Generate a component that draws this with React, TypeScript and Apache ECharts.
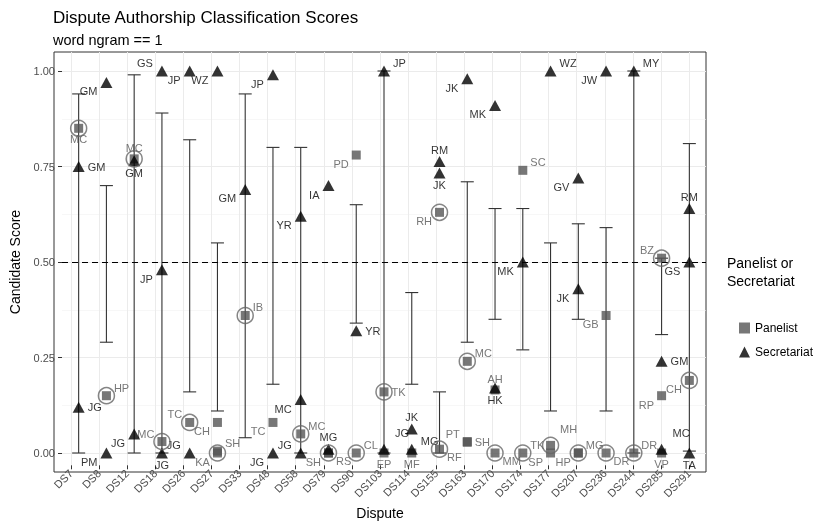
import React, { useEffect, useRef } from "react";
import * as echarts from "echarts";

// ---------- data ----------
const categories = ["DS7", "DS8", "DS12", "DS18", "DS26", "DS27", "DS33", "DS48", "DS58", "DS79", "DS90", "DS103", "DS114", "DS155", "DS163", "DS170", "DS174", "DS177", "DS207", "DS236", "DS244", "DS285", "DS291"];
const yTicks = [0, 0.25, 0.5, 0.75, 1];
const threshold = 0.5;

// error-bar range for each dispute (null = none)
const rangeLow = [0, 0.29, 0, 0, 0.16, 0.11, 0.04, 0.18, 0, null, 0.34, 0, 0.18, 0, 0.29, 0.35, 0.27, 0.11, 0.35, 0.11, 0, 0.31, 0.005];
const rangeHigh = [0.94, 0.70, 0.99, 0.89, 0.82, 0.55, 0.94, 0.80, 0.80, null, 0.65, 1.0, 0.42, 0.16, 0.71, 0.64, 0.64, 0.55, 0.60, 0.59, 1.0, 0.51, 0.81];

// Panelist candidates
const panelDispute = ["DS7", "DS8", "DS12", "DS18", "DS26", "DS27", "DS27", "DS27", "DS33", "DS48", "DS58", "DS79", "DS79", "DS90", "DS90", "DS103", "DS103", "DS114", "DS155", "DS155", "DS163", "DS163", "DS163", "DS170", "DS170", "DS174", "DS174", "DS177", "DS177", "DS207", "DS207", "DS236", "DS236", "DS244", "DS285", "DS285", "DS285", "DS291"];
const panelName = ["MC", "HP", "MC", "MC", "TC", "CH", "KA", "SH", "IB", "TC", "MC", "SH", "RS", "PD", "CL", "TK", "EP", "MF", "RH", "RF", "MC", "PT", "SH", "AH", "MM", "SC", "TK", "MH", "SP", "HP", "MG", "GB", "DR", "DR", "BZ", "RP", "VP", "CH"];
const panelScore = [0.85, 0.15, 0.77, 0.03, 0.08, 0.08, 0.0, 0.005, 0.36, 0.08, 0.05, 0.0, 0.0, 0.78, 0.0, 0.16, 0.0, 0.0, 0.63, 0.01, 0.24, 0.03, 0.028, 0.165, 0.0, 0.74, 0.0, 0.02, 0.0, 0.0, 0.0, 0.36, 0.0, 0.0, 0.51, 0.15, 0.0, 0.19];
const panelCircled = [true, true, true, true, true, false, true, false, true, false, true, true, false, false, true, true, false, false, true, true, true, false, false, false, true, false, true, true, false, true, false, false, true, true, true, false, false, true];
const panelLabelAt = ["b", "tr", "t", "tl", "tl", "bl", "bl", "tr", "tr", "bl", "tr", "bl", "br", "bl", "tr", "r", "b", "b", "bl", "br", "tr", "tl", "r", "t", "br", "tr", "tr", "far", "bl", "bl", "tr", "bl", "br", "tr", "tl", "bl", "b", "bl"];

// Secretariat candidates
const secDispute = ["DS7", "DS7", "DS8", "DS8", "DS12", "DS12", "DS18", "DS18", "DS18", "DS26", "DS26", "DS27", "DS33", "DS48", "DS48", "DS58", "DS58", "DS58", "DS79", "DS79", "DS90", "DS103", "DS103", "DS114", "DS114", "DS155", "DS155", "DS163", "DS170", "DS170", "DS174", "DS177", "DS207", "DS207", "DS236", "DS244", "DS285", "DS285", "DS291", "DS291", "DS291"];
const secName = ["GM", "JG", "GM", "PM", "GM", "JG", "GS", "JP", "JG", "JP", "JG", "WZ", "GM", "JP", "JG", "YR", "MC", "JG", "IA", "MG", "YR", "JP", "JG", "JK", "MG", "RM", "JK", "JK", "MK", "HK", "MK", "WZ", "GV", "JK", "JW", "MY", "GM", "MC", "RM", "GS", "TA"];
const secScore = [0.75, 0.12, 0.97, 0.0, 0.765, 0.05, 1.0, 0.48, 0.0, 1.0, 0.0, 1.0, 0.69, 0.99, 0.0, 0.62, 0.14, 0.0, 0.70, 0.01, 0.32, 1.0, 0.01, 0.063, 0.01, 0.763, 0.733, 0.98, 0.91, 0.17, 0.50, 1.0, 0.72, 0.43, 1.0, 1.0, 0.24, 0.01, 0.64, 0.50, 0.0];
const secLabelAt = ["r", "r", "bl", "bl", "b", "bl", "tl", "bl", "b", "bl", "tl", "bl", "bl", "bl", "bl", "bl", "bl", "tl", "bl", "t", "r", "tr", "far", "t", "tr", "t", "b", "bl", "bl", "b", "bl", "tr", "bl", "bl", "bl", "tr", "r", "far", "t", "bl", "b"];

// ---------- helpers ----------
const FONT = "Liberation Sans, Arial, Helvetica, sans-serif";

function labelFor(code: string, color: string, text: string) {
  const base: any = { show: true, formatter: text, color, fontSize: 11, fontFamily: FONT, distance: 3 };
  switch (code) {
    case "r": return { ...base, position: "right" };
    case "l": return { ...base, position: "left" };
    case "t": return { ...base, position: "top", distance: 1 };
    case "b": return { ...base, position: "bottom", distance: 1 };
    case "tr": return { ...base, position: "right", offset: [0, -8] };
    case "tl": return { ...base, position: "left", offset: [0, -8] };
    case "br": return { ...base, position: "right", offset: [0, 8] };
    case "bl": return { ...base, position: "left", offset: [0, 9] };
    case "far": return { ...base, position: "right", offset: [2, -16] };
    default: return base;
  }
}

export default function App() {
  const ref = useRef<HTMLDivElement>(null);
  useEffect(() => {
    if (!ref.current) return;
    const chart = echarts.init(ref.current, undefined, { renderer: "svg" });

    const errData = categories
      .map((c, i) => [i, rangeLow[i], rangeHigh[i]])
      .filter((d) => d[1] !== null && d[2] !== null);

    const panelData = panelDispute.map((d, i) => ({
      value: [categories.indexOf(d), panelScore[i]],
      label: labelFor(panelLabelAt[i], "#555555", panelName[i]),
    }));
    const circleData = panelDispute
      .map((d, i) => ({ d, i }))
      .filter((o) => panelCircled[o.i])
      .map((o) => [categories.indexOf(o.d), panelScore[o.i]]);
    const secData = secDispute.map((d, i) => ({
      value: [categories.indexOf(d), secScore[i]],
      label: labelFor(secLabelAt[i], "#000000", secName[i]),
    }));

    const axisTextColor = "#4d4d4d";
    const option: any = {
      animation: false,
      title: {
        text: "Dispute Authorship Classification Scores",
        subtext: "word ngram == 1",
        left: 48,
        top: 4,
        itemGap: 6,
        textStyle: { fontFamily: FONT, fontSize: 17, fontWeight: "normal", color: "#000" },
        subtextStyle: { fontFamily: FONT, fontSize: 14.5, color: "#000" },
      },
      legend: {
        data: ["Panelist", "Secretariat"],
        orient: "vertical",
        left: 734,
        top: 317,
        itemGap: 12,
        itemWidth: 11,
        itemHeight: 11,
        textStyle: { fontFamily: FONT, fontSize: 12, color: "#000" },
      },
      graphic: [
        {
          type: "text",
          left: 727,
          top: 254,
          style: { text: "Panelist or\nSecretariat", fontFamily: FONT, fontSize: 14, lineHeight: 18, fill: "#000" },
        },
      ],
      grid: [
        { left: 54, top: 71, width: 652, height: 382 },
        { left: 70.9, top: 52, width: 618.2, height: 420 },
        { left: 54, top: 52, width: 652, height: 420, show: true, borderColor: "#333", borderWidth: 1, backgroundColor: "transparent" },
      ],
      xAxis: [
        { type: "value", gridIndex: 0, min: -0.6, max: 22.6, show: false, axisLine: { onZero: false } },
        {
          type: "value",
          gridIndex: 1,
          min: 0,
          max: 22,
          interval: 1,
          position: "bottom",
          name: "Dispute",
          nameLocation: "middle",
          nameGap: 38,
          nameTextStyle: { fontFamily: FONT, fontSize: 14, color: "#000" },
          axisLine: { show: false, onZero: false },
          axisTick: { show: true, length: 4, lineStyle: { color: "#333" } },
          axisLabel: {
            rotate: 45,
            margin: 6,
            fontFamily: FONT,
            fontSize: 11,
            color: axisTextColor,
            formatter: (v: number) => categories[Math.round(v)] ?? "",
          },
          splitLine: { show: true, lineStyle: { color: "#ebebeb", width: 1 } },
        },
        { type: "value", gridIndex: 2, show: false, axisLine: { onZero: false } },
      ],
      yAxis: [
        {
          type: "value",
          gridIndex: 0,
          min: 0,
          max: 1,
          interval: 0.25,
          position: "left",
          name: "Candidate Score",
          nameLocation: "middle",
          nameGap: 40,
          nameTextStyle: { fontFamily: FONT, fontSize: 14, color: "#000" },
          axisLine: { show: false, onZero: false },
          axisTick: { show: true, length: 4, lineStyle: { color: "#333" } },
          axisLabel: {
            margin: 7,
            fontFamily: FONT,
            fontSize: 11,
            color: axisTextColor,
            formatter: (v: number) => (yTicks.some((t) => Math.abs(t - v) < 1e-9) ? v.toFixed(2) : ""),
          },
          splitLine: { show: true, lineStyle: { color: "#ebebeb", width: 1 } },
          minorTick: { show: false, splitNumber: 2 },
          minorSplitLine: { show: true, lineStyle: { color: "#f2f2f2", width: 0.6 } },
        },
        { type: "value", gridIndex: 1, show: false, axisLine: { onZero: false } },
        { type: "value", gridIndex: 2, show: false, axisLine: { onZero: false } },
      ],
      series: [
        {
          type: "custom",
          name: "range",
          xAxisIndex: 0,
          yAxisIndex: 0,
          clip: false,
          data: errData,
          renderItem: (params: any, api: any) => {
            const x = api.value(0);
            const lo = api.coord([x, api.value(1)]);
            const hi = api.coord([x, api.value(2)]);
            const w = 6.5;
            const style = { stroke: "#333", lineWidth: 1.1 };
            return {
              type: "group",
              children: [
                { type: "line", shape: { x1: lo[0], y1: lo[1], x2: hi[0], y2: hi[1] }, style },
                { type: "line", shape: { x1: lo[0] - w, y1: lo[1], x2: lo[0] + w, y2: lo[1] }, style },
                { type: "line", shape: { x1: hi[0] - w, y1: hi[1], x2: hi[0] + w, y2: hi[1] }, style },
              ],
            };
          },
          markLine: {
            silent: true,
            symbol: "none",
            label: { show: false },
            lineStyle: { color: "#000", type: [6, 4], width: 1 },
            data: [{ yAxis: threshold }],
          },
          z: 2,
        },
        {
          type: "scatter",
          name: "Panelist",
          xAxisIndex: 0,
          yAxisIndex: 0,
          clip: false,
          symbol: "rect",
          symbolSize: 9,
          itemStyle: { color: "#555555" },
          data: panelData,
          z: 3,
        },
        {
          type: "scatter",
          name: "Secretariat",
          xAxisIndex: 0,
          yAxisIndex: 0,
          clip: false,
          symbol: "triangle",
          symbolSize: [12, 11],
          itemStyle: { color: "#000000" },
          data: secData,
          z: 4,
        },
        {
          type: "scatter",
          name: "circled",
          xAxisIndex: 0,
          yAxisIndex: 0,
          clip: false,
          symbol: "circle",
          symbolSize: 16,
          itemStyle: { color: "rgba(0,0,0,0)", borderColor: "#666", borderWidth: 1.5 },
          data: circleData,
          z: 5,
        },
      ],
    };
    chart.setOption(option);
    return () => chart.dispose();
  }, []);
  return <div ref={ref} style={{ position: "fixed", left: 0, top: 0, width: 813, height: 525 }} />;
}
